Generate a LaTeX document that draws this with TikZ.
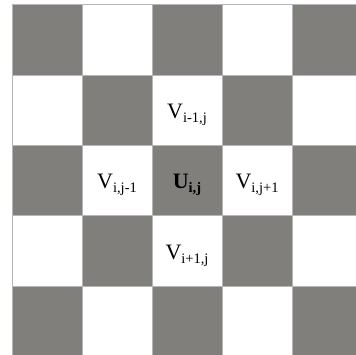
\documentclass[tikz,border=0pt]{standalone}
\usepackage{fontspec}
\setmainfont{Liberation Serif}
\definecolor{cellgray}{RGB}{128,127,123}
\definecolor{gridline}{RGB}{182,182,182}
\newcommand\lbl[2]{#1\raisebox{-4pt}{\fontsize{14.5}{15}\selectfont #2}}
\begin{document}
\begin{tikzpicture}[x=1pt,y=1pt,
  cellbox/.style={draw=gridline, line width=1pt},
  lab/.style={font=\fontsize{22}{26}\selectfont, inner sep=0pt, anchor=base}]
\useasboundingbox (0,0) rectangle (356,354);
\clip (0,0) rectangle (356,354);
\foreach \r in {0,...,4} {
  \foreach \c in {0,...,4} {
    \pgfmathtruncatemacro\s{\r+\c}
    \pgfmathsetmacro\xa{12+70*\c}
    \pgfmathsetmacro\ya{349-70.3*\r}
    \ifodd\s
      \filldraw[cellbox, fill=white] (\xa,\ya) rectangle ++(70,-70.3);
    \else
      \filldraw[cellbox, fill=cellgray] (\xa,\ya) rectangle ++(70,-70.3);
    \fi
  }
}
\node[lab] (vup) at (187,235.5) {\lbl{V}{i-1,j}};
\node[lab] (vleft) at (117,165.2) {\lbl{V}{i,j-1}};
\node[lab] (ucenter) at (187,165.2) {\textbf{\lbl{U}{i,j}}};
\node[lab] (vright) at (257,165.2) {\lbl{V}{i,j+1}};
\node[lab] (vdown) at (187,94.9) {\lbl{V}{i+1,j}};
\end{tikzpicture}
\end{document}
